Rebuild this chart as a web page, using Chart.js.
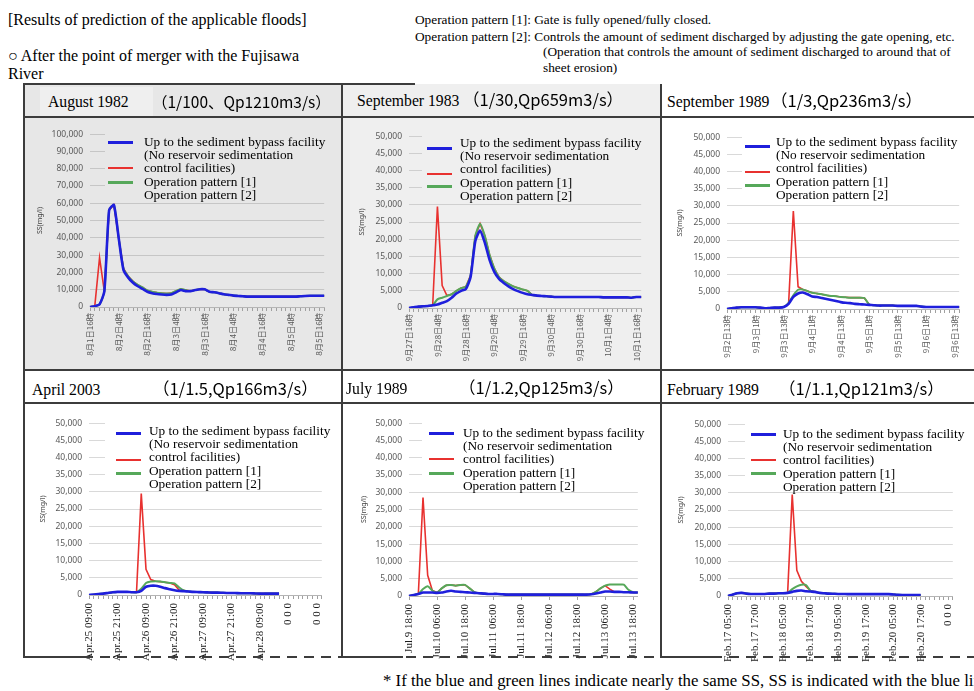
<!DOCTYPE html>
<html>
<head>
<meta charset="utf-8">
<script src="https://cdn.jsdelivr.net/npm/chart.js@4.4.1/dist/chart.umd.min.js"></script>
<style>
  body { margin: 0; width: 974px; height: 691px; overflow: hidden; background: #fff; position: relative; font-family: 'Liberation Serif', serif; }
  .t { position: absolute; white-space: nowrap; color: #000; }
  .ln { position: absolute; background: #3c3c3c; }
  canvas { position: absolute; }
</style>
</head>
<body>
<script>
// SS (mg/l), one value every 2 hours, 50 steps per flood
const aug82Ticks = ['8月1日16時', '8月2日4時', '8月2日16時', '8月3日4時', '8月3日16時', '8月4日4時', '8月4日16時', '8月5日4時', '8月5日16時'];
const aug82Bypass = [0, 500, 1500, 9000, 56000, 59000, 40000, 21500, 17000, 14000, 12000, 10500, 8800, 8000, 7500, 7200, 7000, 7200, 8500, 9800, 9200, 9200, 9800, 10300, 10200, 8800, 8500, 8000, 7400, 7000, 6600, 6400, 6200, 6000, 6000, 6000, 6000, 6000, 6000, 6000, 6000, 6000, 6000, 6000, 6200, 6400, 6500, 6500, 6500, 6500];
const aug82Pattern2 = [0, 500, 1500, 9000, 56000, 59000, 40000, 22300, 17800, 14800, 12800, 11300, 9600, 8800, 8300, 8000, 7800, 8000, 9300, 10400, 9800, 9200, 9800, 10300, 10200, 8800, 8500, 8000, 7400, 7000, 6600, 6400, 6200, 6000, 6000, 6000, 6000, 6000, 6000, 6000, 6000, 6000, 6000, 6000, 6200, 6400, 6500, 6500, 6500, 6500];
const aug82Pattern1 = [0, 500, 28500, 9000, 56000, 59000, 40000, 22300, 17800, 14800, 12800, 11300, 9600, 8800, 8300, 8000, 7800, 8000, 9300, 10400, 9800, 9200, 9800, 10300, 10200, 8800, 8500, 8000, 7400, 7000, 6600, 6400, 6200, 6000, 6000, 6000, 6000, 6000, 6000, 6000, 6000, 6000, 6000, 6000, 6200, 6400, 6500, 6500, 6500, 6500];

const sep83Ticks = ['9月27日16時', '9月28日4時', '9月28日16時', '9月29日4時', '9月29日16時', '9月30日4時', '9月30日16時', '10月1日4時', '10月1日16時'];
const sep83Bypass = [0, 200, 400, 500, 600, 800, 1000, 1500, 2000, 3000, 4200, 5000, 5500, 9000, 19500, 22500, 19000, 14000, 10500, 8500, 7300, 6300, 5500, 4900, 4400, 4000, 3800, 3600, 3500, 3400, 3300, 3200, 3200, 3200, 3200, 3200, 3200, 3200, 3200, 3200, 3200, 3100, 3100, 3100, 3100, 3100, 3100, 3000, 3200, 3200];
const sep83Pattern2 = [0, 200, 400, 500, 600, 800, 2500, 3000, 3500, 4000, 5000, 5800, 6200, 9500, 21000, 24500, 21000, 15500, 11500, 9000, 7800, 7000, 6300, 5800, 5400, 5000, 3800, 3600, 3500, 3400, 3300, 3200, 3200, 3200, 3200, 3200, 3200, 3200, 3200, 3200, 3200, 3100, 3100, 3100, 3100, 3100, 3100, 3000, 3200, 3200];
const sep83Pattern1 = [0, 200, 400, 500, 600, 800, 29500, 6500, 3600, 4000, 5000, 5800, 6200, 9500, 21000, 24500, 21000, 15500, 11500, 9000, 7800, 7000, 6300, 5800, 5400, 5000, 3800, 3600, 3500, 3400, 3300, 3200, 3200, 3200, 3200, 3200, 3200, 3200, 3200, 3200, 3200, 3100, 3100, 3100, 3100, 3100, 3100, 3000, 3200, 3200];

const sep89Ticks = ['9月2日13時', '9月3日1時', '9月3日13時', '9月4日1時', '9月4日13時', '9月5日1時', '9月5日13時', '9月6日1時', '9月6日13時'];
const sep89Bypass = [0, 200, 400, 500, 500, 500, 500, 400, 200, 300, 400, 400, 600, 1500, 3500, 4500, 4800, 4300, 3600, 3500, 3200, 2900, 2600, 2300, 2000, 1800, 1700, 1500, 1400, 1300, 1200, 1100, 1000, 1000, 1000, 1000, 900, 900, 900, 900, 900, 700, 600, 600, 600, 600, 600, 600, 600, 600];
const sep89Pattern2 = [0, 200, 400, 500, 500, 500, 500, 400, 200, 300, 400, 400, 600, 1800, 4000, 5600, 5700, 5200, 4700, 4500, 4300, 4000, 3800, 3700, 3500, 3400, 3300, 3300, 3300, 3200, 1300, 1100, 1000, 1000, 1000, 1000, 900, 900, 900, 900, 900, 700, 600, 600, 600, 600, 600, 600, 600, 600];
const sep89Pattern1 = [0, 200, 400, 500, 500, 500, 500, 400, 200, 300, 400, 400, 600, 1500, 28500, 6500, 5700, 5200, 4700, 4500, 4300, 4000, 3800, 3700, 3500, 3400, 3300, 3300, 3300, 3200, 1300, 1100, 1000, 1000, 1000, 1000, 900, 900, 900, 900, 900, 700, 600, 600, 600, 600, 600, 600, 600, 600];

const apr03Ticks = ['Apr.25 09:00', 'Apr.25 21:00', 'Apr.26 09:00', 'Apr.26 21:00', 'Apr.27 09:00', 'Apr.27 21:00', 'Apr.28 09:00', '0 0 0', '0 0 0'];
const apr03Bypass = [0, 100, 300, 400, 600, 800, 900, 900, 900, 800, 800, 1200, 2400, 2700, 2700, 2400, 2000, 1700, 1400, 1200, 1100, 1000, 900, 850, 800, 750, 700, 700, 650, 600, 600, 550, 500, 500, 500, 450, 400, 400, 400, 400, 400, null, null, null, null, null, null, null, null, null];
const apr03Pattern2 = [0, 100, 300, 400, 600, 800, 900, 900, 900, 800, 800, 1800, 3500, 3900, 4000, 3900, 3700, 3500, 3400, 2200, 1300, 1000, 900, 850, 800, 750, 700, 700, 650, 600, 600, 550, 500, 500, 500, 450, 400, 400, 400, 400, 400, null, null, null, null, null, null, null, null, null];
const apr03Pattern1 = [0, 100, 300, 400, 600, 800, 900, 900, 900, 800, 800, 29500, 7500, 4500, 4000, 3900, 3700, 3500, 3000, 1400, 1300, 1000, 900, 850, 800, 750, 700, 700, 650, 600, 600, 550, 500, 500, 500, 450, 400, 400, 400, 400, 400, null, null, null, null, null, null, null, null, null];

const jul89Ticks = ['Jul.9 18:00', 'Jul.10 06:00', 'Jul.10 18:00', 'Jul.11 06:00', 'Jul.11 18:00', 'Jul.12 06:00', 'Jul.12 18:00', 'Jul.13 06:00', 'Jul.13 18:00'];
const jul89Bypass = [0, 300, 600, 1000, 1000, 1000, 900, 1000, 1300, 1500, 1300, 1200, 1100, 1000, 900, 800, 700, 600, 600, 600, 500, 400, 400, 400, 400, 400, 400, 400, 400, 400, 400, 400, 400, 400, 400, 400, 400, 400, 400, 500, 700, 1000, 1300, 1300, 1200, 1200, 1100, 1100, 1000, 1000];
const jul89Pattern2 = [0, 300, 600, 2000, 2800, 1600, 1000, 2200, 3100, 3200, 3000, 3200, 3200, 2200, 1100, 800, 700, 600, 600, 600, 500, 400, 400, 400, 400, 400, 400, 400, 400, 400, 400, 400, 400, 400, 400, 400, 400, 400, 400, 500, 1200, 2200, 3000, 3300, 3300, 3300, 3300, 1800, 1100, 1000];
const jul89Pattern1 = [0, 300, 600, 28500, 6000, 1600, 1000, 2200, 3100, 3200, 3000, 3200, 3200, 2200, 1100, 800, 700, 600, 600, 600, 500, 400, 400, 400, 400, 400, 400, 400, 400, 400, 400, 400, 400, 400, 400, 400, 400, 400, 400, 500, 1200, 2200, 3000, 2000, 1200, 1200, 1100, 1100, 1000, 1000];

const feb89Ticks = ['Feb.17 05:00', 'Feb.17 17:00', 'Feb.18 05:00', 'Feb.18 17:00', 'Feb.19 05:00', 'Feb.19 17:00', 'Feb.20 05:00', 'Feb.20 17:00', '0 0 0'];
const feb89Bypass = [0, 400, 800, 900, 700, 600, 600, 600, 600, 700, 700, 800, 800, 900, 1200, 1500, 1600, 1400, 1300, 1200, 900, 800, 700, 650, 600, 600, 550, 550, 550, 550, 550, 550, 550, 550, 550, 550, 450, 350, 300, 300, 300, 300, 300, null, null, null, null, null, null, null];
const feb89Pattern2 = [0, 400, 800, 900, 700, 600, 600, 600, 600, 700, 700, 800, 800, 900, 2000, 2800, 3300, 3200, 1500, 1200, 900, 800, 700, 650, 600, 600, 550, 550, 550, 550, 550, 550, 550, 550, 550, 550, 450, 350, 300, 300, 300, 300, 300, null, null, null, null, null, null, null];
const feb89Pattern1 = [0, 400, 800, 900, 700, 600, 600, 600, 600, 700, 700, 800, 800, 900, 29500, 7500, 4300, 2800, 1500, 1200, 900, 800, 700, 650, 600, 600, 550, 550, 550, 550, 550, 550, 550, 550, 550, 550, 450, 350, 300, 300, 300, 300, 300, null, null, null, null, null, null, null];

const legendLines = ['Up to the sediment bypass facility', '(No reservoir sedimentation', 'control facilities)', 'Operation pattern [1]', 'Operation pattern [2]'];

const BLUE = '#1f1fdc';
const RED = '#e8312f';
const GREEN = '#56a85a';
const SPAN = 50;

function text(str, x, cy, size, family, color) {
  const d = document.createElement('div');
  d.className = 't';
  d.textContent = str;
  d.style.left = x + 'px';
  d.style.top = (cy - size * 0.6) + 'px';
  d.style.fontSize = size + 'px';
  d.style.lineHeight = (size * 1.2) + 'px';
  if (family) d.style.fontFamily = family;
  if (color) d.style.color = color;
  document.body.appendChild(d);
  return d;
}

function box(x, y, w, h, bg, cls) {
  const d = document.createElement('div');
  d.className = cls || 'ln';
  d.style.position = 'absolute';
  d.style.left = x + 'px';
  d.style.top = y + 'px';
  d.style.width = w + 'px';
  d.style.height = h + 'px';
  if (bg) d.style.background = bg;
  document.body.appendChild(d);
  return d;
}

const panels = [
  { ticks: aug82Ticks, bypass: aug82Bypass, p1: aug82Pattern1, p2: aug82Pattern2, yMax: 100000, yStep: 10000,
    name: 'August 1982', nameX: 48, note: '（1/100、Qp1210m3/s）', noteX: 152, noteSize: 15.5, titleY: 102,
    left: 90, right: 328, top: 130, bottom: 307, titleX: 40, grid: '#c6c6c6', bg: '#e7e7e7', area: [23, 84, 319, 286],
    leg: [105, 127, 227, 72], swX: 108, swY: [142, 168, 182], txtX: 144, txtY: 142, cjk: true },
  { ticks: sep83Ticks, bypass: sep83Bypass, p1: sep83Pattern1, p2: sep83Pattern2, yMax: 50000, yStep: 5000,
    name: 'September 1983', nameX: 357, note: '（1/30,Qp659m3/s）', noteX: 463, noteSize: 16.5, titleY: 101,
    left: 409, right: 645, top: 132, bottom: 308, titleX: 362, grid: '#cfcfcf', bg: '#efefef', area: [342, 84, 319, 286],
    leg: [422, 130, 225, 70], swX: 427, swY: [148, 174, 186], txtX: 460, txtY: 143, cjk: true },
  { ticks: sep89Ticks, bypass: sep89Bypass, p1: sep89Pattern1, p2: sep89Pattern2, yMax: 50000, yStep: 5000,
    name: 'September 1989', nameX: 667, note: '（1/3,Qp236m3/s）', noteX: 771, noteSize: 16.5, titleY: 102,
    left: 727, right: 963, top: 133, bottom: 309, titleX: 680, grid: '#d9d9d9', bg: '#ffffff', area: null,
    leg: [742, 131, 223, 70], swX: 745, swY: [146, 172, 185], txtX: 776, txtY: 142, cjk: true },
  { ticks: apr03Ticks, bypass: apr03Bypass, p1: apr03Pattern1, p2: apr03Pattern2, yMax: 50000, yStep: 5000,
    name: 'April 2003', nameX: 32, note: '（1/1.5,Qp166m3/s）', noteX: 153, noteSize: 16.5, titleY: 390,
    left: 89, right: 331, top: 419, bottom: 595, titleX: 43, grid: '#d9d9d9', bg: '#ffffff', area: null,
    leg: [105, 417, 227, 70], swX: 116, swY: [433, 460, 473], txtX: 149, txtY: 431, cjk: false },
  { ticks: jul89Ticks, bypass: jul89Bypass, p1: jul89Pattern1, p2: jul89Pattern2, yMax: 50000, yStep: 5000,
    name: 'July 1989', nameX: 346, note: '（1/1.2,Qp125m3/s）', noteX: 459, noteSize: 16.5, titleY: 389,
    left: 409, right: 647, top: 419, bottom: 596, titleX: 364, grid: '#d9d9d9', bg: '#ffffff', area: null,
    leg: [422, 417, 227, 71], swX: 429, swY: [433, 459, 473], txtX: 463, txtY: 433, cjk: false, sparse: true },
  { ticks: feb89Ticks, bypass: feb89Bypass, p1: feb89Pattern1, p2: feb89Pattern2, yMax: 50000, yStep: 5000,
    name: 'February 1989', nameX: 667, note: '（1/1.1,Qp121m3/s）', noteX: 779, noteSize: 16.5, titleY: 390,
    left: 728, right: 962, top: 420, bottom: 596, titleX: 681, grid: '#d9d9d9', bg: '#ffffff', area: null,
    leg: [745, 418, 220, 70], swX: 751, swY: [434, 460, 473], txtX: 783, txtY: 434, cjk: false },
];

// panel backgrounds first
panels.forEach(p => { if (p.area) box(p.area[0], p.area[1], p.area[2], p.area[3], p.bg, 'bg'); });
box(40, 87, 113, 29, '#efefef', 'bg');

function drawFlood(p) {
  const axisH = 72;
  const cl = p.titleX - 4;
  const ct = p.top - 8;
  const w = p.right + 8 - cl;
  const h = p.bottom + axisH - ct;
  const cv = document.createElement('canvas');
  cv.width = w; cv.height = h;
  cv.style.left = cl + 'px'; cv.style.top = ct + 'px';
  cv.style.width = w + 'px'; cv.style.height = h + 'px';
  document.body.appendChild(cv);

  const labels = Array.from({ length: SPAN }, (_, i) => (i % 6 === 0 ? p.ticks[i / 6] : ''));
  const xFont = p.cjk ? { family: "'Noto Sans CJK JP', sans-serif", size: 8.2 } : { family: "'Liberation Serif', serif", size: 11 };

  new Chart(cv, {
    type: 'line',
    data: {
      labels,
      datasets: [
        { label: legendLines[0], data: p.bypass, borderColor: BLUE, borderWidth: 2.6, tension: 0.2 },
        { label: legendLines[4], data: p.p2, borderColor: GREEN, borderWidth: 2, tension: 0.2 },
        { label: legendLines[3], data: p.p1, borderColor: RED, borderWidth: 1.6, tension: 0 },
      ],
    },
    options: {
      responsive: false,
      animation: false,
      events: [],
      layout: { padding: { top: 8, right: 8, bottom: 0, left: 0 } },
      elements: { point: { radius: 0 } },
      plugins: { legend: { display: false }, tooltip: { enabled: false } },
      scales: {
        x: {
          grid: {
            drawOnChartArea: false,
            tickLength: 4,
            color: (c) => (!p.sparse || c.index % 6 === 0 ? '#a0a0a0' : 'rgba(0,0,0,0)'),
          },
          border: { color: '#b5b5b5' },
          ticks: { autoSkip: false, minRotation: 90, maxRotation: 90, padding: p.cjk ? 2 : 4, color: p.cjk ? '#595959' : '#1a1a1a', font: xFont },
          afterFit: (s) => { s.height = axisH; },
        },
        y: {
          min: 0,
          max: p.yMax,
          grid: { color: p.grid, drawTicks: false },
          border: { display: false },
          ticks: {
            stepSize: p.yStep,
            padding: 7,
            color: '#595959',
            font: { family: "'Noto Sans', sans-serif", size: 8.5 },
            callback: (v) => v.toLocaleString('en-US'),
          },
          title: { display: true, text: 'SS(mg/l)', padding: 0, color: '#404040', font: { family: "'Noto Sans', sans-serif", size: 7 } },
          afterFit: (s) => { s.width = p.left - cl; },
        },
      },
    },
  });

  // legend drawn as page text over a plain box, as in the original layout
  box(p.leg[0], p.leg[1], p.leg[2], p.leg[3], p.bg, 'bg');
  [BLUE, RED, GREEN].forEach((c, i) => box(p.swX, p.swY[i] - 1, 25, i === 1 ? 2 : 3, c, 'bg'));
  legendLines.forEach((s, i) => text(s, p.txtX, p.txtY + i * 13.2, 13.3));

  text(p.name, p.nameX, p.titleY, 15.7);
  text(p.note, p.noteX, p.titleY - 1, p.noteSize, "'Noto Sans CJK JP', sans-serif");
}

panels.forEach(drawFlood);

// header and footnote
text('[Results of prediction of the applicable floods]', 8, 20, 16);
text('○ After the point of merger with the Fujisawa', 8, 56, 16);
text('River', 8, 74, 16);
text('Operation pattern [1]: Gate is fully opened/fully closed.', 415, 20, 13.3);
text('Operation pattern [2]: Controls the amount of sediment discharged by adjusting the gate opening, etc.', 415, 37, 13.3);
text('(Operation that controls the amount of sediment discharged to around that of', 543, 52, 13.3);
text('sheet erosion)', 543, 68, 13.3);
text('* If the blue and green lines indicate nearly the same SS, SS is indicated with the blue line.', 383, 681, 16.8);

// frame lines
box(23, 83, 392, 2);
box(23, 83, 2, 575);
box(341, 84, 2, 574);
box(660, 84, 2, 574);
box(23, 116, 951, 2);
box(23, 369, 951, 2);
box(23, 402, 951, 2);
[[23, 60], [341, 62], [660, 62]].forEach(([x, w]) => box(x, 656, w, 2));
const dash = box(83, 656, 891, 2);
dash.style.background = 'repeating-linear-gradient(90deg, #3c3c3c 0 10px, transparent 10px 17px)';
</script>
</body>
</html>
